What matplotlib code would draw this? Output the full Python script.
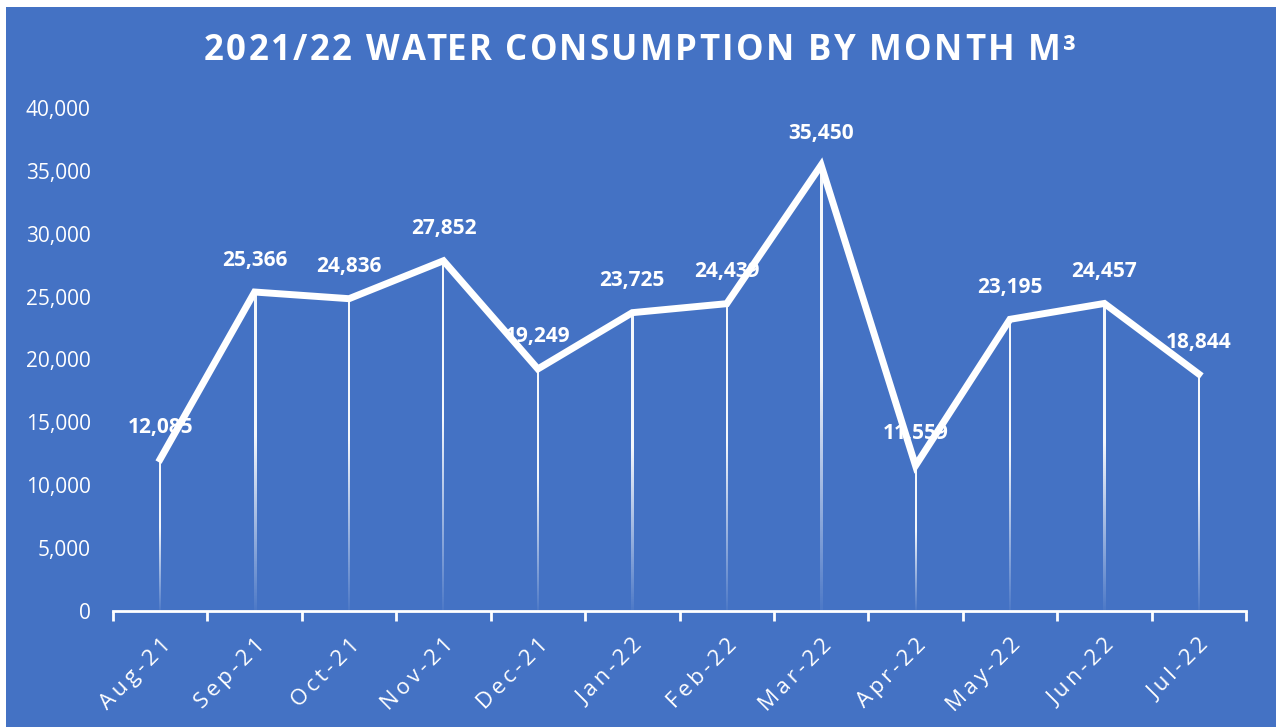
import matplotlib.pyplot as plt
import numpy as np
from matplotlib.patches import Rectangle

plt.rcParams['font.family'] = ['Open Sans', 'DejaVu Sans']

# Monthly water consumption (m³)
months = ['Aug-21', 'Sep-21', 'Oct-21', 'Nov-21', 'Dec-21', 'Jan-22',
          'Feb-22', 'Mar-22', 'Apr-22', 'May-22', 'Jun-22', 'Jul-22']
consumption = [12085, 25366, 24836, 27852, 19249, 23725,
               24439, 35450, 11559, 23195, 24457, 18844]
y_ticks = [0, 5000, 10000, 15000, 20000, 25000, 30000, 35000, 40000]
title = '2021/22 WATER CONSUMPTION BY MONTH M³'

bg = '#4472C4'
W, H = 1281, 727

fig = plt.figure(figsize=(W / 100, H / 100), dpi=100)
fig.patch.set_facecolor('white')
fig.patches.append(Rectangle((6 / W, 0), (1276 - 6) / W, (H - 7) / H,
                             transform=fig.transFigure, facecolor=bg,
                             edgecolor='none', zorder=-10))

ax = fig.add_axes([113 / W, (H - 611) / H, (1246 - 113) / W, (611 - 108) / H])
ax.set_facecolor('none')
ax.set_xlim(-0.5, len(months) - 0.5)
ax.set_ylim(0, 40000)

x = np.arange(len(months))

# drop lines: thin gradient images, white on top fading towards the axis
px_w = len(months) / (1246 - 113)   # data units per pixel in x
ramp = np.linspace(0, 1, 200)
alpha = 0.05 + 0.9 * np.clip(ramp / 0.55, 0, 1)
grad = np.ones((200, 2, 4))
grad[:, :, 3] = alpha[:, None]
for xi, v in zip(x, consumption):
    ax.imshow(grad, extent=(xi - px_w, xi + px_w, 0, v), origin='lower',
              aspect='auto', interpolation='bilinear', zorder=2)

ax.plot(x, consumption, color='white', lw=5, solid_joinstyle='miter', zorder=3)

for xi, v in zip(x, consumption):
    ax.annotate(f'{v:,}', (xi, v), xytext=(0, 32), textcoords='offset pixels',
                ha='center', va='center', color='white', fontsize=15,
                fontweight='bold', zorder=4)

ax.set_xlim(-0.5, len(months) - 0.5)
ax.set_ylim(0, 40000)
ax.set_yticks(y_ticks)
ax.set_yticklabels([f'{t:,}' for t in y_ticks])

ax.set_xticks(x)
ax.set_xticklabels(['\u2009'.join(m) for m in months])
ax.set_xticks(np.arange(-0.5, len(months)), minor=True)
ax.tick_params(axis='x', which='major', length=0, pad=17, labelsize=16,
               labelcolor='white', labelrotation=45)
ax.tick_params(axis='x', which='minor', length=7, width=2, color='white')
ax.tick_params(axis='y', length=0, pad=16, labelsize=15, labelcolor='white')
for lbl in ax.get_xticklabels():
    lbl.set_ha('right')
    lbl.set_va('top')
    lbl.set_rotation_mode('anchor')

for s in ['top', 'right', 'left']:
    ax.spines[s].set_visible(False)
ax.spines['bottom'].set_color('white')
ax.spines['bottom'].set_linewidth(2)

# title with extra letter spacing (measured with the renderer)
renderer = fig.canvas.get_renderer()
tkw = dict(color='white', fontsize=25, fontweight='bold', va='center', ha='left')
probe = fig.text(0, 0, 'H', **tkw)
w_h = probe.get_window_extent(renderer).width


def prefix_width(s):
    probe.set_text(s + 'H')
    return probe.get_window_extent(renderer).width - w_h


tracking = 2.4
offsets = [prefix_width(title[:i]) + i * tracking for i in range(len(title))]
total = prefix_width(title) + (len(title) - 1) * tracking
probe.remove()
x0 = 640 - total / 2
for ch, off in zip(title, offsets):
    if ch != ' ':
        fig.text((x0 + off) / W, 1 - 51 / H, ch, **tkw)

fig.savefig('out.png', dpi=100, facecolor=fig.get_facecolor())
